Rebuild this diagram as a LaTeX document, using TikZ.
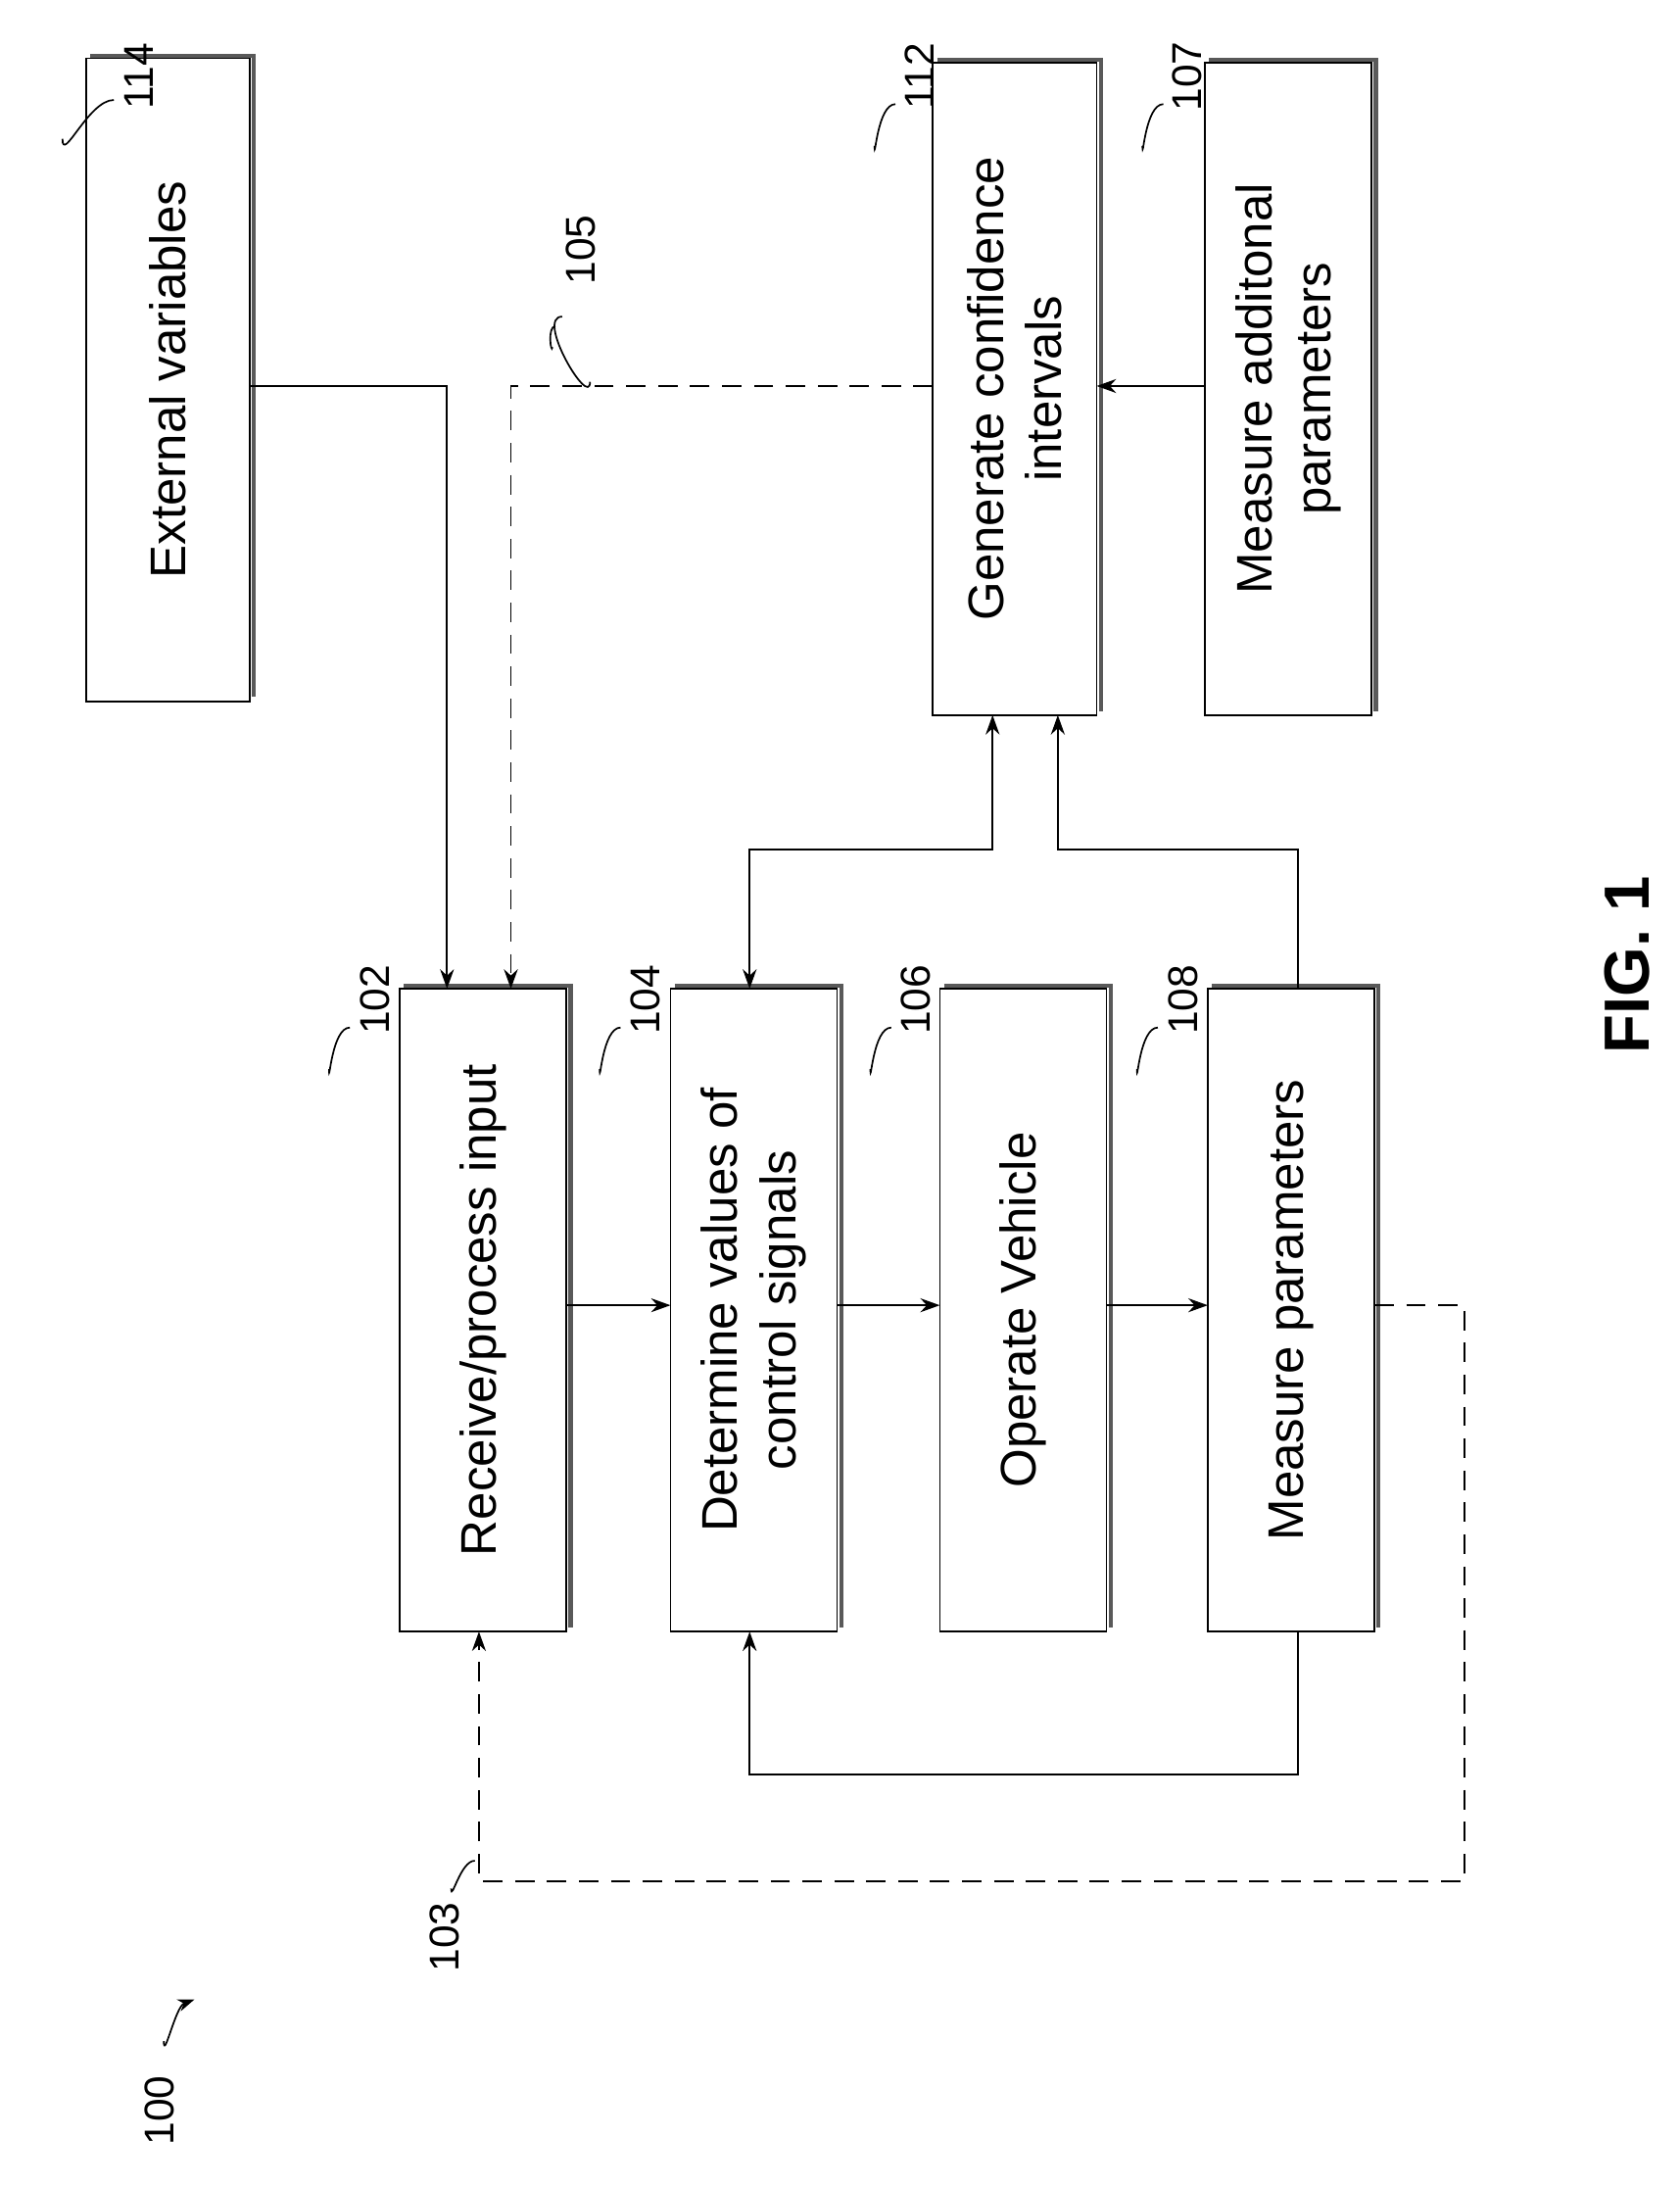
\documentclass[tikz,border=0pt]{standalone}
\usepackage{fontspec}
\setmainfont{Liberation Sans}
\usetikzlibrary{arrows.meta}
\begin{document}
\begin{tikzpicture}[x=1pt,y=-1pt,
 box/.style={draw,line width=1.2pt,fill=white},
 shadow/.style={draw,line width=3pt,gray!70!black},
 txt/.style={rotate=90,align=center,font=\fontsize{36}{42}\selectfont},
 lab/.style={rotate=90,font=\fontsize{30}{34}\selectfont},
 con/.style={line width=1.2pt,-{Stealth[length=14pt,width=10pt]}},
 dcon/.style={con,dash pattern=on 14pt off 9pt},
 lead/.style={line width=1.2pt}]
\useasboundingbox (0,0) rectangle (1210,1575);
\foreach \n/\xa/\ya/\xb/\yb in {114/62/42/180/505,112/672/45/790/515,107/868/45/988/515,102/288/712/408/1175,104/483/712/603/1175,106/677/712/797/1175,108/870/712/990/1175}{
 \draw[shadow] (\xa+3,\ya-2) -- (\xb+3,\ya-2) -- (\xb+3,\yb-3);
 \draw[box] (\xa,\ya) rectangle (\xb,\yb);
 \coordinate (b\n) at ({(\xa+\xb)/2},{(\ya+\yb)/2});
}
\node[txt] (t114) at (b114) {External variables};
\node[txt] (t112) at (b112) {Generate confidence\\intervals};
\node[txt] (t107) at (b107) {Measure additonal\\parameters};
\node[txt] (t102) at (b102) {Receive/process input};
\node[txt] (t104) at (b104) {Determine values of\\control signals};
\node[txt] (t106) at (b106) {Operate Vehicle};
\node[txt] (t108) at (b108) {Measure parameters};
\coordinate (p1) at (180,278); \coordinate (p1b) at (322,278); \coordinate (p1c) at (322,712);
\draw[con] (p1) -- (p1b) -- (p1c);
\coordinate (p2) at (672,278); \coordinate (p2b) at (368,278); \coordinate (p2c) at (368,712);
\draw[dcon] (p2) -- (p2b) -- (p2c);
\foreach \a/\b in {408/483,603/677,797/870}{
 \coordinate (s\a) at (\a,940); \coordinate (e\b) at (\b,940);
 \draw[con] (s\a) -- (e\b);}
\coordinate (q1) at (935,1175); \coordinate (q2) at (935,1278); \coordinate (q3) at (540,1278); \coordinate (q4) at (540,1175);
\draw[con] (q1) -- (q2) -- (q3) -- (q4);
\coordinate (r1) at (935,712); \coordinate (r2) at (935,612); \coordinate (r3) at (762,612); \coordinate (r4) at (762,515);
\draw[con] (r1) -- (r2) -- (r3) -- (r4);
\coordinate (u1) at (540,712); \coordinate (u2) at (540,612); \coordinate (u3) at (715,612); \coordinate (u4) at (715,515);
\draw[con,{Stealth[length=14pt,width=10pt]}-{Stealth[length=14pt,width=10pt]}] (u1) -- (u2) -- (u3) -- (u4);
\coordinate (m1) at (868,278); \coordinate (m2) at (790,278);
\draw[con] (m1) -- (m2);
\coordinate (d1) at (990,940); \coordinate (d2) at (1055,940); \coordinate (d3) at (1055,1355); \coordinate (d4) at (345,1355); \coordinate (d5) at (345,1175);
\draw[dcon] (d1) -- (d2) -- (d3) -- (d4) -- (d5);
% labels
\node[lab] (l114) at (100,55) {114};
\draw[lead] (l114.north) ++(0,0) coordinate (x1); \draw[lead] (82,72) to[out=180,in=-90] (45,100);
\node[lab] (l112) at (662,55) {112};
\draw[lead] (645,75) to[out=180,in=-90] (630,105);
\node[lab] (l107) at (855,55) {107};
\draw[lead] (838,75) to[out=180,in=-90] (823,105);
\node[lab] (l105) at (418,180) {105};
\draw[lead] (405,228) to[out=180,in=-90] (425,275);
\draw[lead] (400,235) to[out=180,in=-100] (398,250);
\node[lab] (l102) at (270,720) {102};
\draw[lead] (252,740) to[out=180,in=-90] (237,770);
\node[lab] (l104) at (465,720) {104};
\draw[lead] (447,740) to[out=180,in=-90] (432,770);
\node[lab] (l106) at (660,720) {106};
\draw[lead] (642,740) to[out=180,in=-90] (627,770);
\node[lab] (l108) at (852,720) {108};
\draw[lead] (834,740) to[out=180,in=-90] (819,770);
\node[lab] (l103) at (320,1395) {103};
\draw[lead] (325,1360) to[out=-90,in=180] (342,1340);
\node[lab] (l100) at (115,1520) {100};
\draw[lead,-{Stealth[length=12pt,width=9pt]}] (118,1470) to[out=-90,in=200] (140,1440);
\node[rotate=90,font=\bfseries\fontsize{46}{50}\selectfont] (fig) at (1172,695) {FIG. 1};
\end{tikzpicture}
\end{document}
